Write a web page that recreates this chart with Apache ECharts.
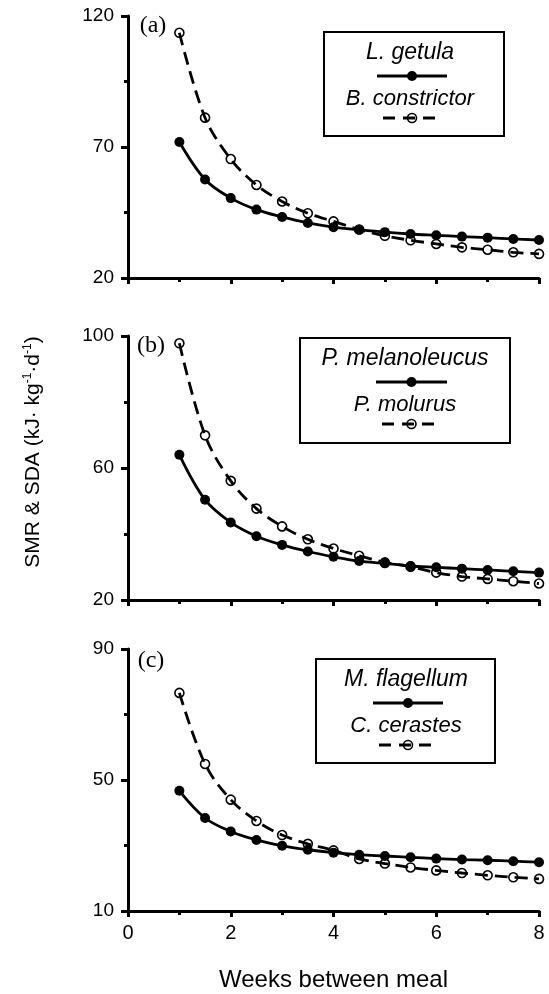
<!DOCTYPE html>
<html>
<head>
<meta charset="utf-8">
<script src="https://cdn.jsdelivr.net/npm/echarts@6/dist/echarts.min.js"></script>
<style>
html,body{margin:0;padding:0;background:#fff;}
#chart{width:549px;height:994px;}
</style>
</head>
<body>
<div id="chart"></div>
<script>
// ---- data ----
const weeks = [1, 1.5, 2, 2.5, 3, 3.5, 4, 4.5, 5, 5.5, 6, 6.5, 7, 7.5, 8];
const xTickLabels = [0, 2, 4, 6, 8];

const getula      = [71.9, 57.6, 50.5, 46.1, 43.3, 41.0, 39.4, 38.4, 37.5, 36.8, 36.3, 35.8, 35.4, 34.9, 34.5];
const constrictor = [113.6, 81.2, 65.4, 55.5, 49.2, 44.7, 41.6, 38.5, 36.1, 34.4, 33.0, 31.7, 30.8, 29.8, 29.2];

const melanoleucus = [64.0, 50.4, 43.5, 39.3, 36.7, 34.7, 33.1, 31.8, 31.1, 30.3, 29.9, 29.5, 29.1, 28.7, 28.3];
const molurus      = [97.8, 69.9, 56.1, 47.7, 42.3, 38.4, 35.6, 33.4, 31.4, 30.1, 28.3, 27.1, 26.4, 25.7, 25.0];

const flagellum = [46.7, 38.4, 34.3, 31.7, 29.9, 28.7, 27.8, 27.2, 26.8, 26.4, 26.0, 25.7, 25.5, 25.2, 24.9];
const cerastes  = [76.6, 54.9, 44.0, 37.5, 33.2, 30.5, 28.5, 25.9, 24.5, 23.3, 22.4, 21.6, 20.9, 20.3, 19.8];

const panelLabels = ['(a)', '(b)', '(c)'];
const solidNames  = ['L. getula', 'P. melanoleucus', 'M. flagellum'];
const dashedNames = ['B. constrictor', 'P. molurus', 'C. cerastes'];
const solidData   = [getula, melanoleucus, flagellum];
const dashedData  = [constrictor, molurus, cerastes];

const yRanges      = [[20, 120], [20, 100], [10, 90]];
const yTickLabels  = [[20, 70, 120], [20, 60, 100], [10, 50, 90]];
const yMinorTicks  = [[45, 95], [40, 80], [30, 70]];

const xAxisName = 'Weeks between meal';

// ---- layout ----
const gridTops = [16, 336, 649];
const gridHeights = [262, 264, 262];
const gridLeft = 128, gridRight = 10;
const legendBoxes = [
  {x: 324, y: 32, w: 180, h: 104, cx: 410, lx1: 377, lx2: 447},
  {x: 300, y: 338, w: 210, h: 105, cx: 405, lx1: 376, lx2: 447},
  {x: 316, y: 659, w: 179, h: 104, cx: 406, lx1: 373, lx2: 443}
];
const panelLabelPos = [[153, 26], [151, 346], [151, 661]];

const FONT = 'Liberation Sans, Arial, Helvetica, sans-serif';
const black = '#000';

const grids = [], xAxes = [], yAxes = [], series = [], graphics = [];

for (let i = 0; i < 3; i++) {
  grids.push({left: gridLeft, right: gridRight, top: gridTops[i], height: gridHeights[i], containLabel: false});
  const isBottom = i === 2;
  xAxes.push({
    type: 'value', gridIndex: i, min: 0, max: 8, interval: 2,
    axisLine: {show: true, onZero: false, lineStyle: {color: black, width: 3}},
    axisTick: {show: true, length: 6, lineStyle: {color: black, width: 3}},
    minorTick: {show: true, splitNumber: 2, length: 4, lineStyle: {color: black, width: 3}},
    splitLine: {show: false}, minorSplitLine: {show: false},
    axisLabel: {show: isBottom, margin: 12, color: black, fontFamily: FONT, fontSize: 20,
      customValues: xTickLabels},
    name: isBottom ? xAxisName : '', nameLocation: 'middle', nameGap: 57,
    nameTextStyle: {color: black, fontFamily: FONT, fontSize: 24, verticalAlign: 'top'}
  });
  // main y-axis with labeled ticks
  yAxes.push({
    type: 'value', gridIndex: i, min: yRanges[i][0], max: yRanges[i][1],
    axisLine: {show: true, onZero: false, lineStyle: {color: black, width: 3}},
    axisTick: {show: true, length: 7, lineStyle: {color: black, width: 3}, customValues: yTickLabels[i]},
    axisLabel: {show: true, margin: 14, color: black, fontFamily: FONT, fontSize: 19, customValues: yTickLabels[i]},
    splitLine: {show: false}
  });
  // secondary y-axis for minor ticks
  yAxes.push({
    type: 'value', gridIndex: i, min: yRanges[i][0], max: yRanges[i][1], position: 'left',
    axisLine: {show: false, onZero: false},
    axisTick: {show: true, length: 4, lineStyle: {color: black, width: 3}, customValues: yMinorTicks[i]},
    axisLabel: {show: false}, splitLine: {show: false}
  });

  series.push({
    name: dashedNames[i], type: 'line', xAxisIndex: i, yAxisIndex: 2 * i,
    data: weeks.map((w, k) => [w, dashedData[i][k]]),
    smooth: 0.35, symbol: 'circle', symbolSize: 9,
    lineStyle: {color: black, width: 2.8, type: [13, 7]},
    itemStyle: {color: 'rgba(255,255,255,0)', borderColor: black, borderWidth: 1.6},
    z: 2, animation: false
  });
  series.push({
    name: solidNames[i], type: 'line', xAxisIndex: i, yAxisIndex: 2 * i,
    data: weeks.map((w, k) => [w, solidData[i][k]]),
    smooth: 0.35, symbol: 'circle', symbolSize: 10,
    lineStyle: {color: black, width: 2.8},
    itemStyle: {color: black, borderColor: black, borderWidth: 0},
    z: 3, animation: false
  });

  // panel label
  graphics.push({
    type: 'text', x: panelLabelPos[i][0], y: panelLabelPos[i][1],
    style: {text: panelLabels[i], fill: black, font: '24px "Liberation Serif", "Times New Roman", serif',
      align: 'center', verticalAlign: 'middle'}
  });
  // legend box
  const b = legendBoxes[i];
  graphics.push({type: 'rect', shape: {x: b.x, y: b.y, width: b.w, height: b.h},
    style: {fill: '#fff', stroke: black, lineWidth: 2}, z: 10});
  const t1y = b.y + 21, l1y = b.y + 44, t2y = b.y + 67, l2y = b.y + 86;
  graphics.push({type: 'text', x: b.cx, y: t1y, z: 11,
    style: {text: solidNames[i], fill: black, font: 'italic 23px ' + FONT, align: 'center', verticalAlign: 'middle'}});
  graphics.push({type: 'line', z: 11, shape: {x1: b.lx1, y1: l1y, x2: b.lx2, y2: l1y},
    style: {stroke: black, lineWidth: 3}});
  graphics.push({type: 'circle', z: 12, shape: {cx: (b.lx1 + b.lx2) / 2, cy: l1y, r: 5}, style: {fill: black}});
  graphics.push({type: 'text', x: b.cx, y: t2y, z: 11,
    style: {text: dashedNames[i], fill: black, font: 'italic 22px ' + FONT, align: 'center', verticalAlign: 'middle'}});
  graphics.push({type: 'line', z: 11, shape: {x1: b.lx1 + 6, y1: l2y, x2: b.lx2 - 6, y2: l2y},
    style: {stroke: black, lineWidth: 3, lineDash: [12, 8]}});
  graphics.push({type: 'circle', z: 12, shape: {cx: (b.lx1 + b.lx2) / 2, cy: l2y, r: 4.5},
    style: {fill: 'rgba(255,255,255,0)', stroke: black, lineWidth: 1.6}});
}

// y axis title with superscripts
graphics.push({
  type: 'text', x: 33, y: 452, rotation: Math.PI / 2,
  style: {
    text: 'SMR & SDA (kJ· kg{sup|-1}·d{sup|-1})',
    fill: black, font: '21px ' + FONT, align: 'center', verticalAlign: 'middle',
    rich: {sup: {fontSize: 12, fontFamily: FONT, fill: black, verticalAlign: 'top', padding: [0, 0, 10, 0]}}
  }
});

const chart = echarts.init(document.getElementById('chart'), null, {renderer: 'canvas'});
chart.setOption({
  animation: false,
  backgroundColor: '#fff',
  grid: grids, xAxis: xAxes, yAxis: yAxes, series: series,
  graphic: graphics
});
</script>
</body>
</html>
